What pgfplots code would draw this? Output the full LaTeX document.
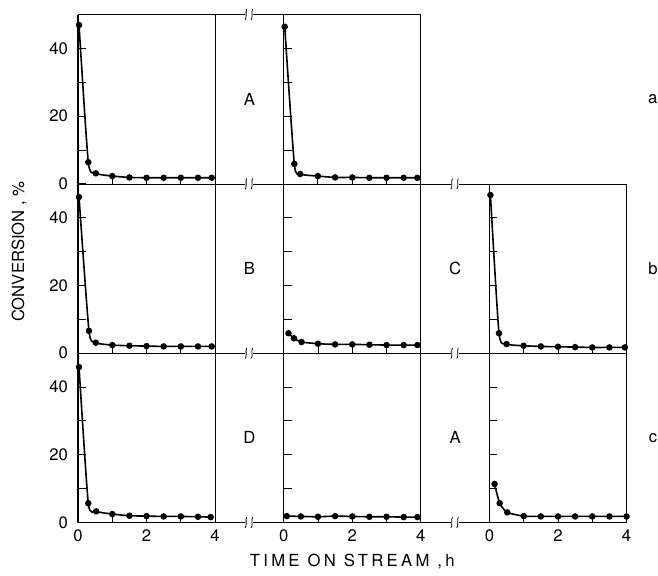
\documentclass[border=0pt]{standalone}
\usepackage{fontspec}
\setmainfont{TeX Gyre Heros}
\newfontfamily\widefont[LetterSpace=20]{TeX Gyre Heros}
\usepackage{pgfplots}
\pgfplotsset{compat=1.18}
\usepackage{pgfplotstable}

% time on stream (h), conversion (%)
\pgfplotstableread{
t c
0.03 46.9
0.30 6.4
0.52 3.1
1.00 2.3
1.50 1.9
2.00 1.8
2.50 1.8
3.00 1.8
3.50 1.8
3.90 1.8
}\aOne
\pgfplotstableread{
t c
0.03 46.4
0.31 5.9
0.48 2.9
1.00 2.3
1.50 1.9
2.00 1.9
2.50 1.8
3.00 1.8
3.50 1.8
3.90 1.8
}\aTwo
\pgfplotstableread{
t c
0.03 46.1
0.32 6.6
0.52 3.1
1.00 2.4
1.50 2.2
2.00 2.1
2.50 2.0
3.00 2.0
3.50 2.0
3.90 2.0
}\bOne
\pgfplotstableread{
t c
0.14 5.9
0.30 4.4
0.52 3.3
1.00 2.8
1.50 2.6
2.00 2.6
2.50 2.5
3.00 2.4
3.50 2.4
3.90 2.4
}\bTwo
\pgfplotstableread{
t c
0.03 46.7
0.28 5.9
0.50 2.7
1.00 2.2
1.50 2.0
2.00 1.9
2.50 1.8
3.00 1.7
3.50 1.7
3.95 1.7
}\bThree
\pgfplotstableread{
t c
0.03 45.9
0.30 5.7
0.53 3.3
1.00 2.5
1.50 2.0
2.00 1.9
2.50 1.8
3.00 1.8
3.50 1.7
3.87 1.6
}\cOne
\pgfplotstableread{
t c
0.09 1.9
0.50 1.8
1.00 1.7
1.50 1.9
2.00 1.8
2.50 1.7
3.00 1.7
3.50 1.6
3.90 1.6
}\cTwo
\pgfplotstableread{
t c
0.15 11.4
0.30 5.7
0.52 3.0
1.00 1.9
1.50 1.8
2.00 1.8
2.50 1.8
3.00 1.8
3.50 1.8
4.00 1.8
}\cThree

\pgfplotsset{
  panelrow/.style={
    scale only axis, height=127pt, ymin=0, ymax=50, xmin=0,
    axis line style={line width=0.5pt},
    ytick={0,20,40}, minor ytick={10,30},
    xtick={0,2,4,6,8,10,12,14,16}, minor xtick={1,3,7,9,13,15},
    tick align=inside, ytick pos=left, xtick pos=bottom,
    major tick length=6pt, minor tick length=6pt,
    every tick/.style={line width=0.7pt, black},
    every minor tick/.style={line width=0.7pt, black},
    yticklabel style={xshift=-4pt},
    xticklabel style={yshift=-2pt},
    /pgf/number format/assume math mode=true,
    clip=false,
    every axis plot post/.append style={black, solid, line width=1.2pt, mark=*, mark size=1.8pt, mark options={solid, fill=black}, smooth, tension=0.35},
  },
}

% break mark on a frame line
\newcommand{\brk}[2]{%
  \fill[white] ([xshift=-3pt,yshift=-1.2pt]axis cs:#1,#2) rectangle ([xshift=3pt,yshift=1.2pt]axis cs:#1,#2);
  \draw[line width=0.6pt] ([xshift=-3.2pt,yshift=-4pt]axis cs:#1,#2) .. controls +(1.6pt,1pt) and +(-1.2pt,-1pt) .. ++(1.2pt,8pt);
  \draw[line width=0.6pt] ([xshift=1.2pt,yshift=-4pt]axis cs:#1,#2) .. controls +(1.6pt,1pt) and +(-1.2pt,-1pt) .. ++(1.2pt,8pt);
}
\newcommand{\yticks}[1]{%
  \draw[line width=0.7pt] (axis cs:#1,10) -- ++(6pt,0);
  \draw[line width=0.7pt] (axis cs:#1,20) -- ++(6pt,0);
  \draw[line width=0.7pt] (axis cs:#1,30) -- ++(6pt,0);
  \draw[line width=0.7pt] (axis cs:#1,40) -- ++(6pt,0);
}

\begin{document}
\begin{tikzpicture}[font=\fontsize{12.5}{15}\selectfont]
\path[use as bounding box] (-58.5pt,-39.4pt) rectangle (435pt,391.9pt);

% row a
\begin{axis}[panelrow, at={(0,254pt)}, width=257.1pt, xmax=10, xticklabels={}]
\addplot table[x=t, y=c] {\aOne};
\addplot table[x expr=\thisrow{t}+6, y=c] {\aTwo};
\draw[line width=0.5pt] (axis cs:4,0) -- (axis cs:4,50);
\draw[line width=0.8pt] (axis cs:6,0) -- (axis cs:6,50);
\draw[line width=0.8pt] (axis cs:0,0) -- (axis cs:0,50);
\yticks{6}
\brk{5}{50}
\node at (axis cs:5,25) {A};
\node at (axis cs:16.77,25) {a};
\end{axis}

% row b
\begin{axis}[panelrow, at={(0,127pt)}, width=411.4pt, xmax=16, xticklabels={}]
\addplot table[x=t, y=c] {\bOne};
\addplot table[x expr=\thisrow{t}+6, y=c] {\bTwo};
\addplot table[x expr=\thisrow{t}+12, y=c] {\bThree};
\draw[line width=0.5pt] (axis cs:4,0) -- (axis cs:4,50);
\draw[line width=0.5pt] (axis cs:10,0) -- (axis cs:10,50);
\draw[line width=0.8pt] (axis cs:6,0) -- (axis cs:6,50);
\draw[line width=0.8pt] (axis cs:12,0) -- (axis cs:12,50);
\draw[line width=0.8pt] (axis cs:0,0) -- (axis cs:0,50);
\yticks{6}
\yticks{12}
\brk{5}{50}
\brk{11}{50}
\node at (axis cs:5,25) {B};
\node at (axis cs:11,25) {C};
\node at (axis cs:16.77,25) {b};
\node[rotate=90] at (axis cs:-1.72,30) {CONVERSION , \%};
\end{axis}

% row c
\begin{axis}[panelrow, at={(0,0)}, width=411.4pt, xmax=16,
  xticklabels={0,2,4,0,2,4,0,2,4}]
\addplot table[x=t, y=c] {\cOne};
\addplot table[x expr=\thisrow{t}+6, y=c] {\cTwo};
\addplot table[x expr=\thisrow{t}+12, y=c] {\cThree};
\draw[line width=0.5pt] (axis cs:4,0) -- (axis cs:4,50);
\draw[line width=0.5pt] (axis cs:10,0) -- (axis cs:10,50);
\draw[line width=0.8pt] (axis cs:6,0) -- (axis cs:6,50);
\draw[line width=0.8pt] (axis cs:12,0) -- (axis cs:12,50);
\draw[line width=0.8pt] (axis cs:0,0) -- (axis cs:0,50);
\yticks{6}
\yticks{12}
\brk{5}{50}
\brk{11}{50}
\brk{5}{0}
\brk{11}{0}
\node at (axis cs:5,25) {D};
\node at (axis cs:11,25) {A};
\node at (axis cs:16.77,25) {c};
\node[font=\fontsize{12.5}{15}\widefont] at ([yshift=-29.5pt]axis cs:8,0) {TIME ON STREAM ,h};
\end{axis}
\end{tikzpicture}
\end{document}
